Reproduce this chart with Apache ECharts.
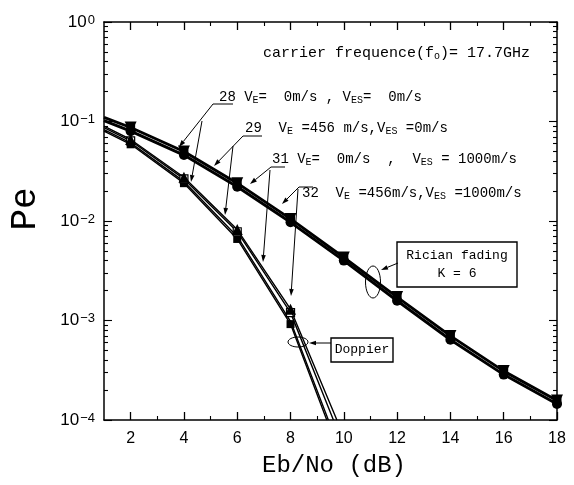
<!DOCTYPE html>
<html><head><meta charset="utf-8">
<script src="https://cdn.jsdelivr.net/npm/echarts@6/dist/echarts.min.js"></script>
<style>html,body{margin:0;padding:0;background:#fff}#c{width:574px;height:485px}</style>
</head><body><div id="c"></div>
<script>
// ---- data ----
const xTicksMajor = [2, 4, 6, 8, 10, 12, 14, 16, 18];
const xTicksMinor = [3, 5, 7, 9, 11, 13, 15, 17];
const yDecades = [1e-4, 1e-3, 1e-2, 1e-1, 1];

// Rician fading K=6 (upper band)
const riceX = [1, 2, 4, 6, 8, 10, 12, 14, 16, 18];
const riceA = [0.110, 0.087, 0.050, 0.0240, 0.0105, 0.0043, 0.00172, 0.00070, 0.000310, 0.000157];
const riceB = [0.102, 0.080, 0.046, 0.0221, 0.0097, 0.0040, 0.00158, 0.00064, 0.000286, 0.000145];

// Doppler (steep lower bundle)
const dop1X = [1, 2, 4, 6, 8, 9.74];
const dop1Y = [0.090, 0.066, 0.0275, 0.0082, 0.00130, 0.0001];
const dop2X = [1, 2, 4, 6, 8, 9.61];
const dop2Y = [0.087, 0.064, 0.0265, 0.0078, 0.00120, 0.0001];
const dop3X = [1, 2, 4, 6, 8, 9.42];
const dop3Y = [0.083, 0.061, 0.0250, 0.0070, 0.00098, 0.0001];
const dop4X = [1, 2, 4, 6, 8, 9.36];
const dop4Y = [0.080, 0.059, 0.0240, 0.0066, 0.00092, 0.0001];

// minor log ticks 2..9 x decade
const yMinor = [];
[1e-4, 1e-3, 1e-2, 1e-1].forEach(d => { for (let k = 2; k <= 9; k++) yMinor.push(+(k * d).toPrecision(3)); });

const pairs = (xs, ys) => xs.map((x, i) => [x, ys[i]]);
const evenSize = s => (v => (Math.abs(v[0] % 2) < 1e-9 ? s : 0));

const MONO = 'Liberation Mono';
const SANS = 'Liberation Sans';

const chart = echarts.init(document.getElementById('c'), null, { renderer: 'canvas' });

const majorTickX = (pos, grid, show) => ({
  type: 'value', gridIndex: grid, position: pos, min: 1, max: 18,
  axisLine: { show: show, lineStyle: { color: '#000', width: 1.5 } },
  axisTick: { show: true, inside: true, length: 8, customValues: xTicksMajor, lineStyle: { color: '#000', width: 1.3 } },
  axisLabel: { show: false }, splitLine: { show: false }
});
const minorTickX = (pos) => ({
  type: 'value', gridIndex: 1, position: pos, min: 1, max: 18,
  axisLine: { show: false },
  axisTick: { show: true, inside: true, length: 4, customValues: xTicksMinor, lineStyle: { color: '#000', width: 1.1 } },
  axisLabel: { show: false }, splitLine: { show: false }
});
const yAx = (pos, grid, show, len, vals) => ({
  type: 'log', logBase: 10, gridIndex: grid, position: pos, min: 1e-4, max: 1,
  axisLine: { show: show, lineStyle: { color: '#000', width: 1.5 } },
  axisTick: { show: true, inside: true, length: len, customValues: vals, lineStyle: { color: '#000', width: 1.1 } },
  axisLabel: { show: false }, splitLine: { show: false }, minorTick: { show: false }
});

const xBottom = majorTickX('bottom', 0, true);
xBottom.axisLabel = {
  show: true, customValues: xTicksMajor, fontFamily: SANS, fontSize: 16, color: '#000', margin: 11
};
const yLeft = yAx('left', 0, true, 8, yDecades);
yLeft.axisLabel = {
  show: true, customValues: yDecades, margin: 9,
  formatter: v => { const e = Math.round(Math.log10(v)); return '{b|10}{s|' + (e < 0 ? '\u2212' + (-e) : e) + '}'; },
  rich: {
    b: { fontSize: 17, lineHeight: 17, fontFamily: SANS, color: '#000' },
    s: { fontSize: 13, lineHeight: 13, fontFamily: SANS, color: '#000', padding: [0, 0, 10, 1], verticalAlign: 'top' }
  }
};

const lineSeries = (name, data, width, symbol, size, fill, extra) => Object.assign({
  type: 'line', name, data, xAxisIndex: 0, yAxisIndex: 0,
  lineStyle: { color: '#000', width },
  symbol, symbolSize: evenSize(size), showAllSymbol: true,
  itemStyle: { color: fill, borderColor: '#000', borderWidth: fill === '#fff' ? 1.2 : 0 },
  silent: true, clip: true, animation: false
}, extra || {});

// ---- annotations ----
const SUBR = { s: { fontSize: 10, lineHeight: 10, fontFamily: MONO, color: '#000', padding: [7, 0, 0, 0] } };
const T = (x, y, txt, size, align, font) => ({
  type: 'text', x, y, silent: true,
  style: { text: txt, font: (size || 14) + 'px "' + (font || MONO) + '"', fill: '#000', align: align || 'left', verticalAlign: 'middle', rich: SUBR }
});
const L = (x1, y1, x2, y2, w) => ({ type: 'line', silent: true, shape: { x1, y1, x2, y2 }, style: { stroke: '#000', lineWidth: w || 1 } });
const A = (x1, y1, x2, y2) => {
  const ang = Math.atan2(y2 - y1, x2 - x1), len = 7, wd = 2.3;
  const bx = x2 - len * Math.cos(ang), by = y2 - len * Math.sin(ang);
  const px = -Math.sin(ang) * wd, py = Math.cos(ang) * wd;
  return [L(x1, y1, bx, by, 1),
    { type: 'polygon', silent: true, shape: { points: [[x2, y2], [bx + px, by + py], [bx - px, by - py]] }, style: { fill: '#000' } }];
};

const graphics = [
  T(263, 53, 'carrier frequence(f{s|o})= 17.7GHz', 15),
  T(219, 97, '28 V{s|E}=  0m/s , V{s|ES}=  0m/s', 14),
  T(245, 128, '29  V{s|E} =456 m/s,V{s|ES} =0m/s', 14),
  T(272, 159, '31 V{s|E}=  0m/s  ,  V{s|ES} = 1000m/s', 14),
  T(302, 193, '32  V{s|E} =456m/s,V{s|ES} =1000m/s', 14),
  L(213, 104, 233, 104), ...A(213, 104, 179, 147), ...A(202, 121, 191, 182),
  L(243, 136, 262, 136), ...A(243, 136, 214, 166), ...A(233, 146, 225, 215),
  L(271, 167, 285, 167), ...A(271, 167, 250, 184), ...A(270, 170, 263, 262),
  L(299, 187, 313, 187), ...A(299, 187, 282, 204), ...A(298, 189, 291, 296),
  { type: 'rect', silent: true, shape: { x: 397, y: 242, width: 120, height: 45 }, style: { fill: '#fff', stroke: '#000', lineWidth: 1.4 } },
  T(457, 256, 'Rician fading', 13, 'center'),
  T(457, 274, 'K = 6', 13, 'center'),
  { type: 'ellipse', silent: true, shape: { cx: 373, cy: 282, rx: 7.5, ry: 16 }, style: { fill: 'none', stroke: '#000', lineWidth: 1 } },
  ...A(398, 263, 381, 270),
  { type: 'rect', silent: true, shape: { x: 331, y: 338, width: 62, height: 24 }, style: { fill: '#fff', stroke: '#000', lineWidth: 1.4 } },
  T(362, 350, 'Doppier', 13, 'center'),
  { type: 'ellipse', silent: true, shape: { cx: 298, cy: 342, rx: 10, ry: 5 }, style: { fill: 'none', stroke: '#000', lineWidth: 1 } },
  ...A(331, 343, 309, 343),
  T(334, 466, 'Eb/No (dB)', 24, 'center'),
  Object.assign(T(25, 209, 'Pe', 36, 'center'), { rotation: Math.PI / 2 })
];

chart.setOption({
  animation: false,
  backgroundColor: '#fff',
  grid: [
    { left: 104, right: 17, top: 22, bottom: 65, outerBoundsMode: 'none' },
    { left: 104, right: 17, top: 22, bottom: 65, outerBoundsMode: 'none' }
  ],
  xAxis: [xBottom, majorTickX('top', 0, true), minorTickX('bottom'), minorTickX('top')],
  yAxis: [yLeft, yAx('right', 0, true, 8, yDecades), yAx('left', 1, false, 4, yMinor), yAx('right', 1, false, 4, yMinor)],
  series: [
    lineSeries('dop4', pairs(dop4X, dop4Y), 1.4, 'rect', 8, '#000', { z: 3 }),
    lineSeries('dop3', pairs(dop3X, dop3Y), 1.4, 'none', 0, '#000', { z: 3 }),
    lineSeries('dop2', pairs(dop2X, dop2Y), 1.4, 'rect', 8, '#fff', { z: 4 }),
    lineSeries('dop1', pairs(dop1X, dop1Y), 1.4, 'triangle', 11, '#000', { z: 5 }),
    lineSeries('riceB', pairs(riceX, riceB), 2.9, 'circle', 10, '#000', { z: 3 }),
    lineSeries('riceA', pairs(riceX, riceA), 2.9, 'triangle', 12, '#000', { z: 4, symbolRotate: 180 }),
    lineSeries('riceA-sq', pairs(riceX, riceA), 0, 'rect', 9, '#000', { z: 5, lineStyle: { width: 0, opacity: 0 } })
  ],
  graphic: { elements: graphics }
});
</script></body></html>
